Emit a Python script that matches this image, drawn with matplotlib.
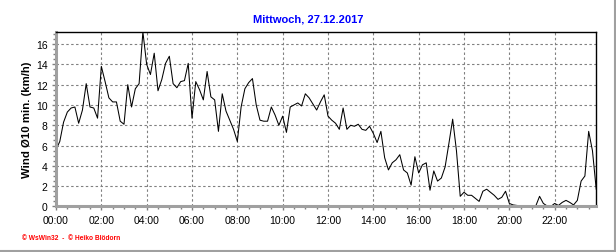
import numpy as np
import matplotlib
matplotlib.use("Agg")
import matplotlib.pyplot as plt
from matplotlib.ticker import MultipleLocator, FuncFormatter
from matplotlib.lines import Line2D

plt.rcParams['font.family'] = ['Liberation Sans', 'DejaVu Sans']

title = "Mittwoch, 27.12.2017"
ylabel = "Wind Ø10 min. (km/h)"
footer = "© WsWin32  -  © Heiko Blödorn"

# wind average every 10 minutes, 00:00 .. 23:50
step_min = 10
wind = [
    5.6, 6.4, 8.3, 9.3, 9.7, 9.8, 8.2, 9.5, 12.1, 9.8, 9.7, 8.7,
    13.8, 12.3, 10.7, 10.3, 10.3, 8.4, 8.1, 12.0, 9.8, 11.6, 12.1, 17.2,
    14.0, 13.0, 15.1, 11.4, 12.5, 14.1, 14.8, 12.1, 11.7, 12.3, 12.4, 14.1,
    8.7, 12.3, 11.5, 10.5, 13.3, 10.8, 10.5, 7.4, 11.1, 9.4, 8.5, 7.6,
    6.4, 9.8, 11.6, 12.2, 12.6, 10.0, 8.5, 8.4, 8.4, 9.8, 9.0, 8.0,
    8.9, 7.3, 9.8, 10.0, 10.2, 9.9, 11.1, 10.7, 10.1, 9.5, 10.3, 11.0,
    8.9, 8.5, 8.2, 7.6, 9.7, 7.6, 8.0, 7.9, 8.1, 7.6, 7.5, 7.9,
    7.2, 6.3, 7.4, 4.8, 3.6, 4.3, 4.6, 5.1, 3.6, 3.3, 2.1, 4.9,
    3.3, 4.1, 4.3, 1.6, 3.5, 2.5, 2.8, 3.9, 6.2, 8.6, 5.5, 1.0,
    1.4, 1.1, 1.1, 0.8, 0.5, 1.5, 1.7, 1.4, 1.1, 0.7, 0.9, 1.5,
    0.3, 0.15, 0.1, 0.05, 0.05, 0.05, 0.05, 0.05, 1.0, 0.3, 0.05, 0.0,
    0.3, 0.1, 0.4, 0.6, 0.4, 0.15, 0.6, 2.5, 3.0, 7.4, 5.5, 1.7,
]
hours = np.arange(len(wind)) * step_min / 60.0

fig = plt.figure(figsize=(6.16, 2.53), dpi=100)
ax = fig.add_axes([0.0909, 0.180, 0.877, 0.690])

ax.plot(hours, wind, color='black', lw=0.75)
ax.set_xlim(0, hours[-1])
ax.set_ylim(0, max(wind))

ax.xaxis.set_major_locator(MultipleLocator(2))
ax.xaxis.set_minor_locator(MultipleLocator(0.5))
ax.xaxis.set_major_formatter(FuncFormatter(lambda v, p: "%02d:00" % int(round(v))))
ax.yaxis.set_major_locator(MultipleLocator(2))
ax.yaxis.set_minor_locator(MultipleLocator(0.5))

ax.grid(True, which='major', color='#808080', lw=0.8, linestyle=(0, (2.2, 2.2)))

for s in ['top', 'right']:
    ax.spines[s].set_color('black')
    ax.spines[s].set_linewidth(1.0)
for s in ['left', 'bottom']:
    ax.spines[s].set_color('#a0a0a0')
    ax.spines[s].set_linewidth(2.2)

ax.tick_params(which='both', direction='out', color='#808080', width=1)
ax.tick_params(which='major', length=3, labelsize=7.5, pad=3)
ax.tick_params(which='minor', length=2)

ax.set_ylabel(ylabel, fontsize=8.2, fontweight='bold', labelpad=3)

fig.text(0.5, 1 - 19 / 253, title, ha='center', va='center',
         color='#0000ff', fontsize=8, fontweight='bold')
fig.text(22 / 616, 1 - 239 / 253, footer, ha='left', va='center',
         color='#ff0000', fontsize=4.8, fontweight='bold')

fig.add_artist(Line2D([0, 1], [1 - 251.5 / 253] * 2, color='#a0a0a0', lw=1.5))
fig.add_artist(Line2D([614.5 / 616] * 2, [0, 1], color='#a0a0a0', lw=1.5))

fig.savefig('out.png', dpi=100)
